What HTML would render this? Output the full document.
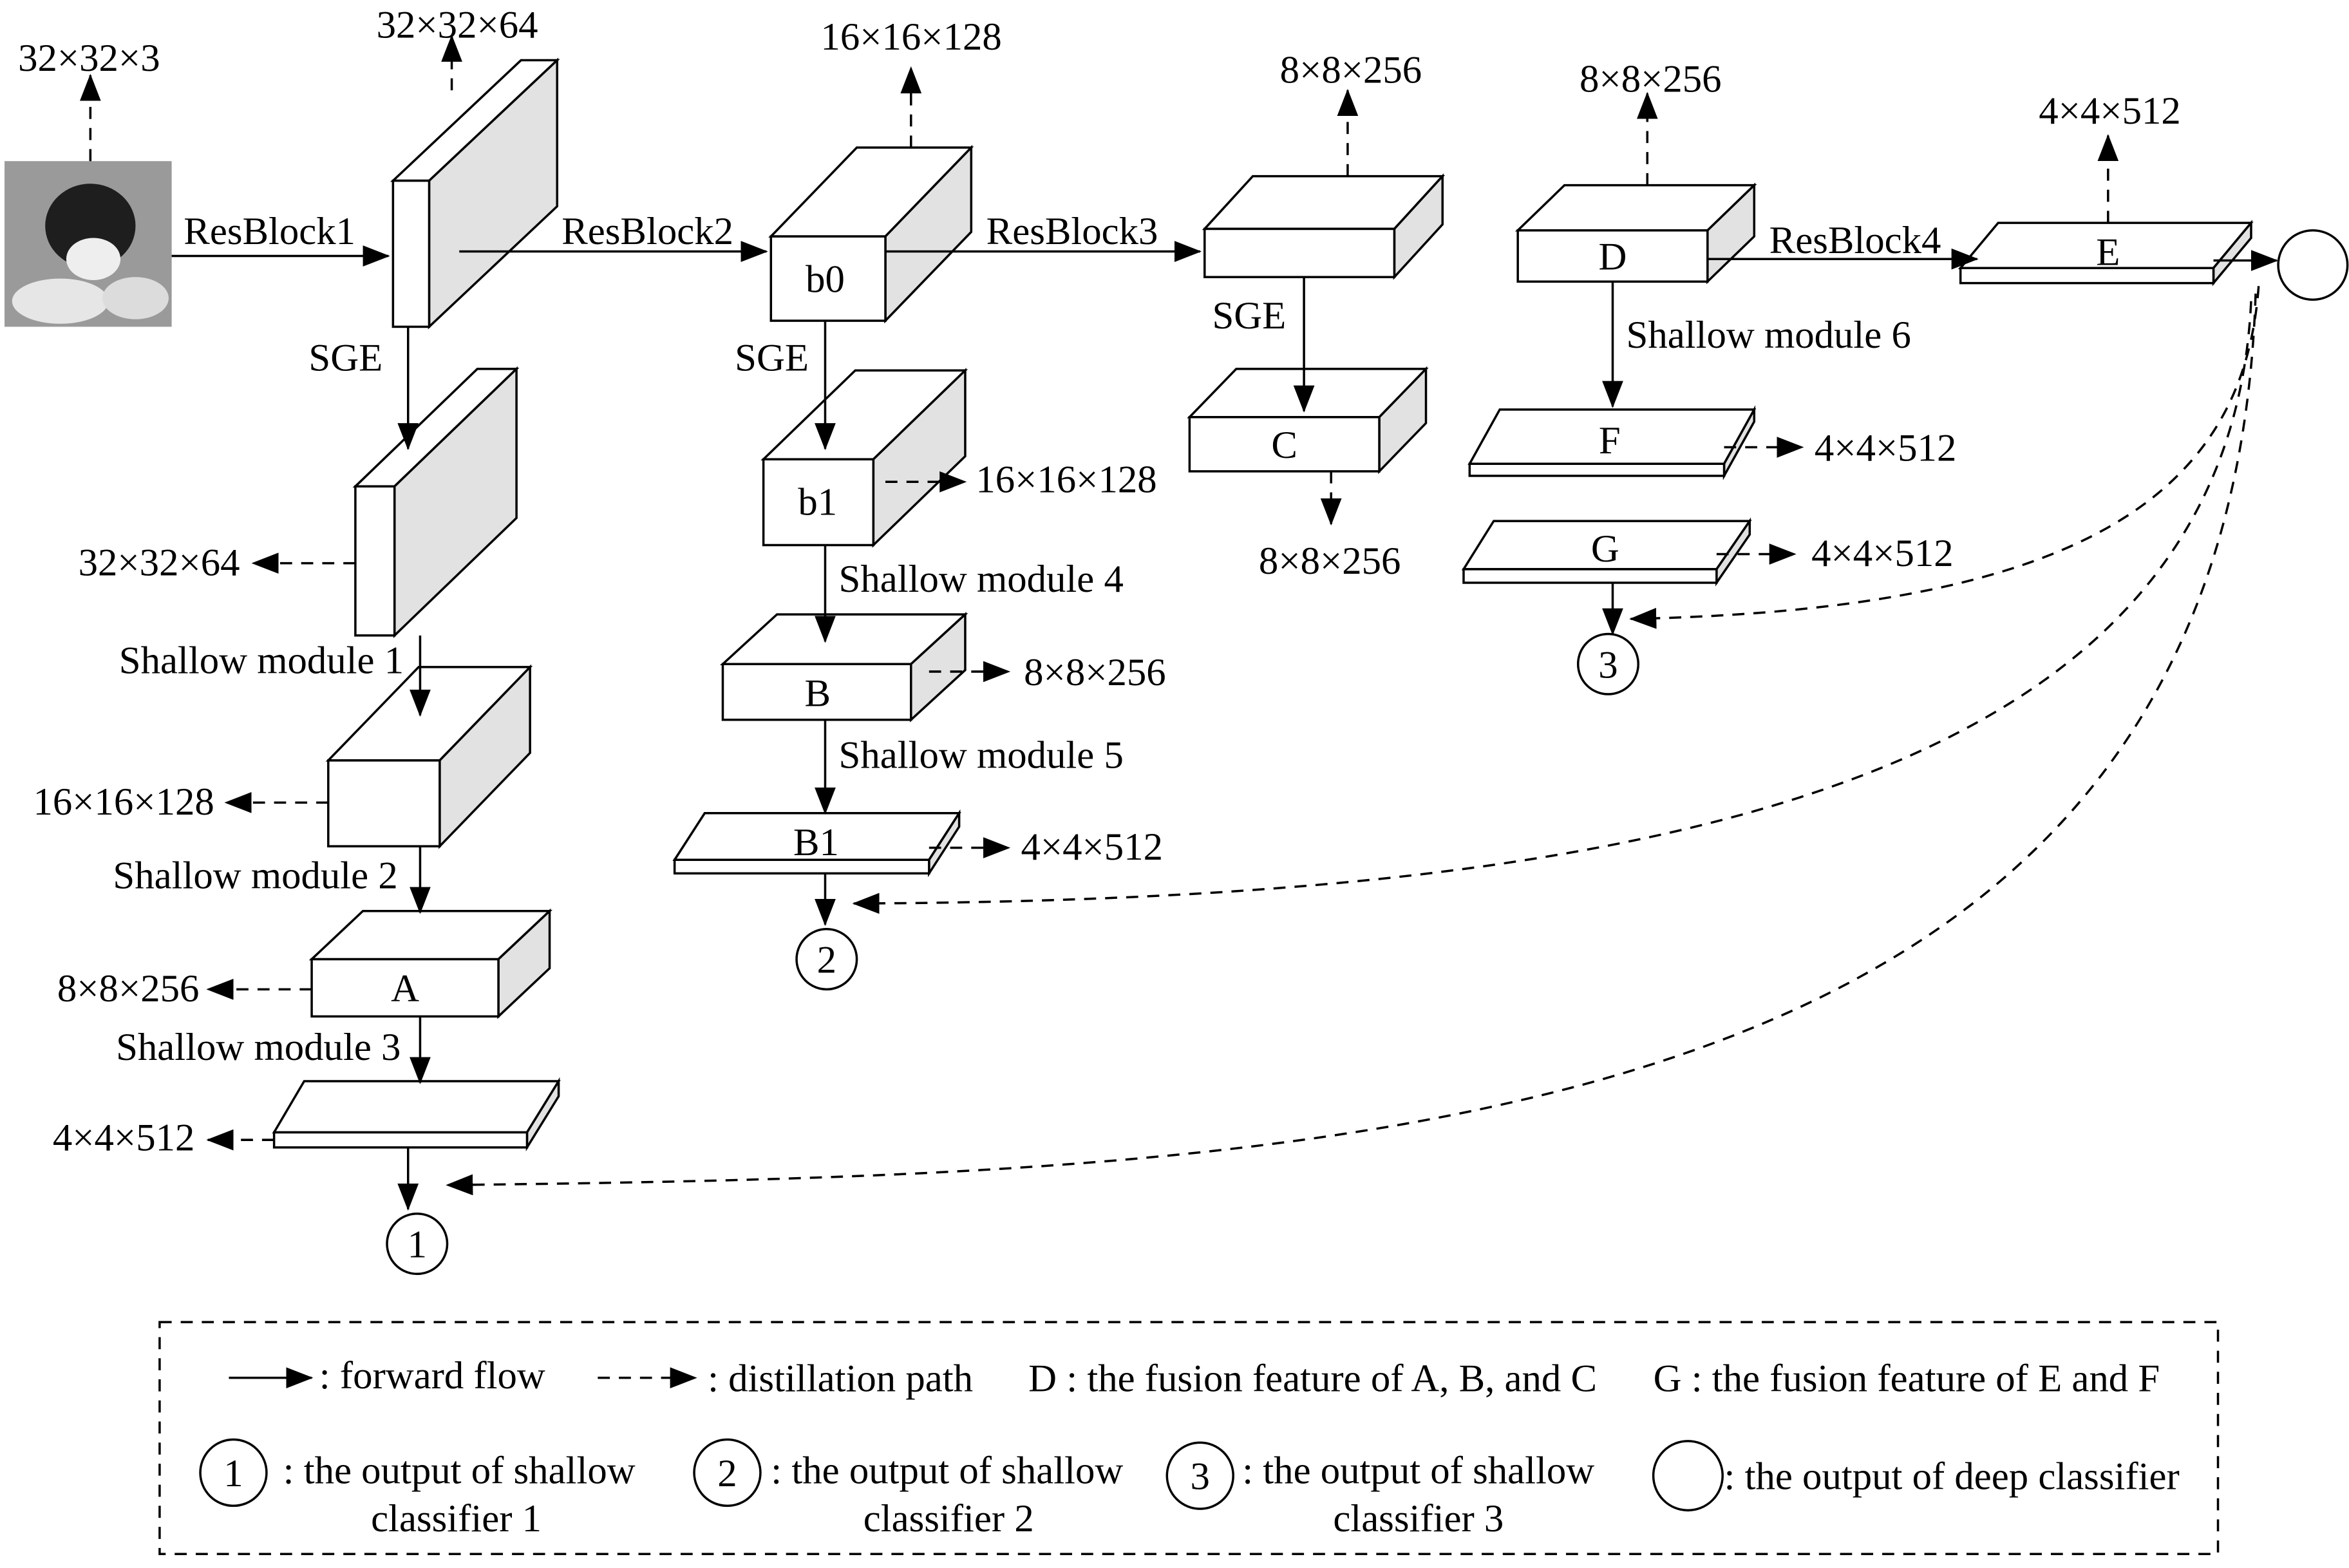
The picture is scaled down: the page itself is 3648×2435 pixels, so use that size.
<!DOCTYPE html>
<html><head><meta charset="utf-8"><style>html,body{margin:0;padding:0;background:#fff}svg{display:block}</style></head>
<body>
<svg width="3648" height="2435" viewBox="0 0 1560 1041.3" xmlns="http://www.w3.org/2000/svg" font-family="'Liberation Serif', serif" font-size="26">
<defs>
<marker id="ar" markerUnits="userSpaceOnUse" markerWidth="18" markerHeight="14" refX="17" refY="7" orient="auto"><path d="M0,0 L18,7 L0,14 Z" fill="#000"/></marker>
</defs>
<g stroke="#000" stroke-width="1.5" fill="none">
<rect x="3" y="107" width="111" height="110" fill="#9a9a9a" stroke="none"/>
<ellipse cx="60" cy="150" rx="30" ry="28" fill="#1e1e1e" stroke="none"/>
<ellipse cx="62" cy="172" rx="18" ry="14" fill="#eee" stroke="none"/>
<ellipse cx="40" cy="200" rx="32" ry="15" fill="#e6e6e6" stroke="none"/>
<ellipse cx="90" cy="198" rx="22" ry="14" fill="#dcdcdc" stroke="none"/>
<g fill="#fff">
<polygon points="261,120 346,40 370,40 285,120"/><polygon points="285,120 370,40 370,137 285,217" fill="#e2e2e2"/><rect x="261" y="120" width="24" height="97"/>
<polygon points="236,323 317,245 343,245 262,323"/><polygon points="262,323 343,245 343,344 262,422" fill="#e2e2e2"/><rect x="236" y="323" width="26" height="99"/>
<polygon points="218,505 278,443 352,443 292,505"/><polygon points="292,505 352,443 352,500 292,562" fill="#e2e2e2"/><rect x="218" y="505" width="74" height="57"/>
<polygon points="207,637 241,605 365,605 331,637"/><polygon points="331,637 365,605 365,643 331,675" fill="#e2e2e2"/><rect x="207" y="637" width="124" height="38"/>
<polygon points="182,752 202,718 371,718 350,752"/><polygon points="350,752 371,718 371,728 350,762" fill="#e2e2e2"/><rect x="182" y="752" width="168" height="10"/>
<polygon points="512,157 569,98 645,98 588,157"/><polygon points="588,157 645,98 645,154 588,213" fill="#e2e2e2"/><rect x="512" y="157" width="76" height="56"/>
<polygon points="507,305 568,246 641,246 580,305"/><polygon points="580,305 641,246 641,303 580,362" fill="#e2e2e2"/><rect x="507" y="305" width="73" height="57"/>
<polygon points="480,441 516,408 641,408 605,441"/><polygon points="605,441 641,408 641,445 605,478" fill="#e2e2e2"/><rect x="480" y="441" width="125" height="37"/>
<polygon points="448,571 468,540 637,540 617,571"/><polygon points="617,571 637,540 637,549 617,580" fill="#e2e2e2"/><rect x="448" y="571" width="169" height="9"/>
<polygon points="800,152 832,117 958,117 926,152"/><polygon points="926,152 958,117 958,149 926,184" fill="#e2e2e2"/><rect x="800" y="152" width="126" height="32"/>
<polygon points="790,277 821,245 947,245 916,277"/><polygon points="916,277 947,245 947,281 916,313" fill="#e2e2e2"/><rect x="790" y="277" width="126" height="36"/>
<polygon points="1008,153 1039,123 1165,123 1134,153"/><polygon points="1134,153 1165,123 1165,157 1134,187" fill="#e2e2e2"/><rect x="1008" y="153" width="126" height="34"/>
<polygon points="976,308 996,272 1165,272 1145,308"/><polygon points="1145,308 1165,272 1165,280 1145,316" fill="#e2e2e2"/><rect x="976" y="308" width="169" height="8"/>
<polygon points="972,378 992,346 1162,346 1140,378"/><polygon points="1140,378 1162,346 1162,355 1140,387" fill="#e2e2e2"/><rect x="972" y="378" width="168" height="9"/>
<polygon points="1302,178 1327,148 1495,148 1470,178"/><polygon points="1470,178 1495,148 1495,158 1470,188" fill="#e2e2e2"/><rect x="1302" y="178" width="168" height="10"/>
</g>
<circle cx="277" cy="826" r="20"/><circle cx="549" cy="637" r="20"/><circle cx="1068" cy="441" r="20"/><circle cx="1536" cy="176" r="23"/>
<g marker-end="url(#ar)">
<line x1="114" y1="170" x2="258" y2="170"/>
<line x1="305" y1="167" x2="509" y2="167"/>
<line x1="588" y1="167" x2="797" y2="167"/>
<line x1="1134" y1="172" x2="1313" y2="172"/>
<line x1="1470" y1="173" x2="1512" y2="173"/>
<line x1="271" y1="217" x2="271" y2="298"/>
<line x1="279" y1="422" x2="279" y2="475"/>
<line x1="279" y1="562" x2="279" y2="606"/>
<line x1="279" y1="675" x2="279" y2="719"/>
<line x1="271" y1="762" x2="271" y2="803"/>
<line x1="548" y1="213" x2="548" y2="298"/>
<line x1="548" y1="362" x2="548" y2="426"/>
<line x1="548" y1="478" x2="548" y2="540"/>
<line x1="548" y1="580" x2="548" y2="614"/>
<line x1="866" y1="184" x2="866" y2="273"/>
<line x1="1071" y1="187" x2="1071" y2="270"/>
<line x1="1071" y1="387" x2="1071" y2="421"/>
</g>
<g stroke-dasharray="8,6" marker-end="url(#ar)">
<line x1="60" y1="107" x2="60" y2="50"/>
<line x1="300" y1="60" x2="300" y2="24"/>
<line x1="236" y1="374" x2="168" y2="374"/>
<line x1="218" y1="533" x2="150" y2="533"/>
<line x1="207" y1="657" x2="138" y2="657"/>
<line x1="182" y1="757" x2="138" y2="757"/>
<line x1="605" y1="98" x2="605" y2="45"/>
<line x1="588" y1="320" x2="641" y2="320"/>
<line x1="617" y1="446" x2="670" y2="446"/>
<line x1="617" y1="563" x2="670" y2="563"/>
<line x1="895" y1="117" x2="895" y2="60"/>
<line x1="884" y1="313" x2="884" y2="348"/>
<line x1="1094" y1="123" x2="1094" y2="62"/>
<line x1="1145" y1="297" x2="1197" y2="297"/>
<line x1="1140" y1="368" x2="1192" y2="368"/>
<line x1="1400" y1="148" x2="1400" y2="90"/>
<path d="M1500,190 C1490,330 1380,405 1083,411"/>
<path d="M1495,200 C1480,520 1100,598 567,600"/>
<path d="M1498,195 C1480,760 900,780 297,787"/>
</g>
<rect x="106" y="878" width="1367" height="154" stroke-dasharray="8,6"/>
<line x1="152" y1="915" x2="207" y2="915" marker-end="url(#ar)"/>
<line x1="397" y1="915" x2="462" y2="915" stroke-dasharray="8,6" marker-end="url(#ar)"/>
<circle cx="155" cy="978" r="22"/><circle cx="483" cy="978" r="22"/><circle cx="797" cy="980" r="22"/><circle cx="1121" cy="980" r="23"/>
</g>
<g fill="#000">
<text x="12" y="47">32×32×3</text>
<text x="250" y="25">32×32×64</text>
<text x="122" y="162">ResBlock1</text>
<text x="373" y="162">ResBlock2</text>
<text x="655" y="162">ResBlock3</text>
<text x="1175" y="168">ResBlock4</text>
<text x="205" y="246">SGE</text>
<text x="488" y="246">SGE</text>
<text x="805" y="218">SGE</text>
<text x="52" y="382">32×32×64</text>
<text x="79" y="447">Shallow module 1</text>
<text x="22" y="541">16×16×128</text>
<text x="75" y="590">Shallow module 2</text>
<text x="38" y="665">8×8×256</text>
<text x="77" y="704">Shallow module 3</text>
<text x="35" y="764">4×4×512</text>
<text x="545" y="33">16×16×128</text>
<text x="648" y="327">16×16×128</text>
<text x="557" y="393">Shallow module 4</text>
<text x="680" y="455">8×8×256</text>
<text x="557" y="510">Shallow module 5</text>
<text x="678" y="571">4×4×512</text>
<text x="850" y="55">8×8×256</text>
<text x="836" y="381">8×8×256</text>
<text x="1049" y="61">8×8×256</text>
<text x="1080" y="231">Shallow module 6</text>
<text x="1205" y="306">4×4×512</text>
<text x="1203" y="376">4×4×512</text>
<text x="1354" y="82">4×4×512</text>
<g text-anchor="middle">
<text x="548" y="194">b0</text><text x="543" y="342">b1</text><text x="543" y="469">B</text><text x="542" y="568">B1</text>
<text x="269" y="665">A</text><text x="853" y="304">C</text><text x="1071" y="179">D</text><text x="1069" y="301">F</text><text x="1066" y="373">G</text><text x="1400" y="176">E</text>
<text x="277" y="835">1</text><text x="549" y="646">2</text><text x="1068" y="450">3</text>
<text x="155" y="987">1</text><text x="483" y="987">2</text><text x="797" y="989">3</text>
<text x="303" y="1017">classifier 1</text><text x="630" y="1017">classifier 2</text><text x="942" y="1017">classifier 3</text>
</g>
<text x="212" y="922">: forward flow</text>
<text x="470" y="924">: distillation path</text>
<text x="683" y="924">D : the fusion feature of A, B, and C</text>
<text x="1098" y="924">G : the fusion feature of E and F</text>
<text x="188" y="985">: the output of shallow</text>
<text x="512" y="985">: the output of shallow</text>
<text x="825" y="985">: the output of shallow</text>
<text x="1145" y="989">: the output of deep classifier</text>
</g>
</svg>
</body></html>
